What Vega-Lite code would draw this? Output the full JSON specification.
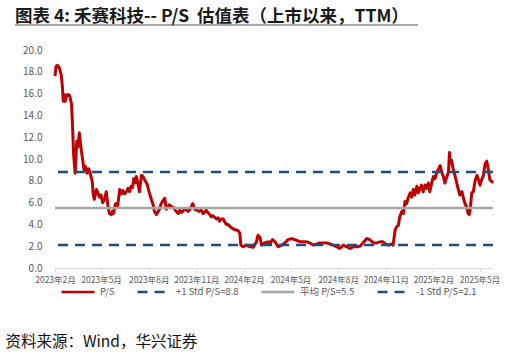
{
  "$schema": "https://vega.github.io/schema/vega-lite/v6.json",
  "width": 438,
  "height": 218,
  "autosize": {"type": "none"},
  "padding": {"left": 55, "top": 50, "right": 16, "bottom": 86},
  "background": "white",
  "config": {"view": {"stroke": null}, "font": "Noto Sans CJK SC"},
  "title": {
    "text": "图表 4: 禾赛科技-- P/S\u00a0 估值表（上市以来，TTM）",
    "anchor": "start",
    "frame": "group",
    "dx": -40,
    "offset": -1,
    "fontSize": 17.5,
    "fontWeight": "bold",
    "color": "#1a1a1a",
    "font": "Noto Sans CJK SC"
  },
  "datasets": {
    "ps": [
      {"d":"2023-02-09","v":17.6},{"d":"2023-02-11","v":18.5},{"d":"2023-02-14","v":18.6},{"d":"2023-02-18","v":18.3},{"d":"2023-02-21","v":17.7},{"d":"2023-02-23","v":16.8},{"d":"2023-02-25","v":15.3},{"d":"2023-02-27","v":15.9},{"d":"2023-03-01","v":15.3},{"d":"2023-03-04","v":15.9},{"d":"2023-03-08","v":15.9},{"d":"2023-03-10","v":15.7},{"d":"2023-03-13","v":15.0},{"d":"2023-03-15","v":12.8},{"d":"2023-03-17","v":10.4},{"d":"2023-03-18","v":9.8},{"d":"2023-03-20","v":8.7},{"d":"2023-03-23","v":11.6},{"d":"2023-03-25","v":11.1},{"d":"2023-03-28","v":12.4},{"d":"2023-04-01","v":10.7},{"d":"2023-04-04","v":9.75},{"d":"2023-04-06","v":9.0},{"d":"2023-04-09","v":9.3},{"d":"2023-04-12","v":8.7},{"d":"2023-04-15","v":9.1},{"d":"2023-04-18","v":8.7},{"d":"2023-04-22","v":7.9},{"d":"2023-04-24","v":6.7},{"d":"2023-04-26","v":6.3},{"d":"2023-04-30","v":7.2},{"d":"2023-05-03","v":6.9},{"d":"2023-05-06","v":6.5},{"d":"2023-05-09","v":6.7},{"d":"2023-05-12","v":6.0},{"d":"2023-05-16","v":6.3},{"d":"2023-05-19","v":7.0},{"d":"2023-05-22","v":5.8},{"d":"2023-05-25","v":5.0},{"d":"2023-05-29","v":4.9},{"d":"2023-05-31","v":5.2},{"d":"2023-06-02","v":5.0},{"d":"2023-06-06","v":5.9},{"d":"2023-06-10","v":5.7},{"d":"2023-06-14","v":7.2},{"d":"2023-06-17","v":6.8},{"d":"2023-06-20","v":7.1},{"d":"2023-06-23","v":6.8},{"d":"2023-06-27","v":7.0},{"d":"2023-06-30","v":7.3},{"d":"2023-07-03","v":7.0},{"d":"2023-07-06","v":7.5},{"d":"2023-07-09","v":7.4},{"d":"2023-07-11","v":8.2},{"d":"2023-07-15","v":7.8},{"d":"2023-07-16","v":8.4},{"d":"2023-07-19","v":7.8},{"d":"2023-07-22","v":7.0},{"d":"2023-07-26","v":8.5},{"d":"2023-07-29","v":8.4},{"d":"2023-08-01","v":8.1},{"d":"2023-08-06","v":7.7},{"d":"2023-08-08","v":7.3},{"d":"2023-08-09","v":7.1},{"d":"2023-08-14","v":6.3},{"d":"2023-08-17","v":5.9},{"d":"2023-08-20","v":5.2},{"d":"2023-08-24","v":4.9},{"d":"2023-08-26","v":5.1},{"d":"2023-08-30","v":5.4},{"d":"2023-09-02","v":5.9},{"d":"2023-09-06","v":6.2},{"d":"2023-09-09","v":6.4},{"d":"2023-09-12","v":5.4},{"d":"2023-09-15","v":5.6},{"d":"2023-09-18","v":5.8},{"d":"2023-09-22","v":5.6},{"d":"2023-09-25","v":5.6},{"d":"2023-09-28","v":5.4},{"d":"2023-10-01","v":5.2},{"d":"2023-10-05","v":5.0},{"d":"2023-10-08","v":5.3},{"d":"2023-10-11","v":5.1},{"d":"2023-10-14","v":5.2},{"d":"2023-10-17","v":5.4},{"d":"2023-10-21","v":5.3},{"d":"2023-10-24","v":5.2},{"d":"2023-10-28","v":5.4},{"d":"2023-11-02","v":5.9},{"d":"2023-11-06","v":5.4},{"d":"2023-11-10","v":5.3},{"d":"2023-11-14","v":5.2},{"d":"2023-11-19","v":5.3},{"d":"2023-11-22","v":5.0},{"d":"2023-11-25","v":5.1},{"d":"2023-11-28","v":5.3},{"d":"2023-12-01","v":5.1},{"d":"2023-12-05","v":4.9},{"d":"2023-12-08","v":4.7},{"d":"2023-12-11","v":4.8},{"d":"2023-12-18","v":4.5},{"d":"2023-12-21","v":4.6},{"d":"2023-12-24","v":4.3},{"d":"2023-12-27","v":4.5},{"d":"2023-12-31","v":4.5},{"d":"2024-01-03","v":4.2},{"d":"2024-01-06","v":4.0},{"d":"2024-01-09","v":4.0},{"d":"2024-01-13","v":3.8},{"d":"2024-01-19","v":3.6},{"d":"2024-01-22","v":3.5},{"d":"2024-01-25","v":3.5},{"d":"2024-01-29","v":3.4},{"d":"2024-02-01","v":3.2},{"d":"2024-02-03","v":2.1},{"d":"2024-02-07","v":1.95},{"d":"2024-02-14","v":2.1},{"d":"2024-02-20","v":1.95},{"d":"2024-02-27","v":1.9},{"d":"2024-03-04","v":2.4},{"d":"2024-03-07","v":3.0},{"d":"2024-03-11","v":2.8},{"d":"2024-03-14","v":2.1},{"d":"2024-03-20","v":2.3},{"d":"2024-03-27","v":2.4},{"d":"2024-03-31","v":2.3},{"d":"2024-04-04","v":2.6},{"d":"2024-04-09","v":2.4},{"d":"2024-04-15","v":1.95},{"d":"2024-04-22","v":2.1},{"d":"2024-04-28","v":2.3},{"d":"2024-05-04","v":2.6},{"d":"2024-05-11","v":2.7},{"d":"2024-05-17","v":2.6},{"d":"2024-05-23","v":2.5},{"d":"2024-05-27","v":2.4},{"d":"2024-06-02","v":2.4},{"d":"2024-06-09","v":2.4},{"d":"2024-06-15","v":2.3},{"d":"2024-06-22","v":2.1},{"d":"2024-06-28","v":2.2},{"d":"2024-07-05","v":2.3},{"d":"2024-07-11","v":2.3},{"d":"2024-07-18","v":2.3},{"d":"2024-07-24","v":2.2},{"d":"2024-07-30","v":2.1},{"d":"2024-08-06","v":1.95},{"d":"2024-08-12","v":1.8},{"d":"2024-08-19","v":2.1},{"d":"2024-08-25","v":1.95},{"d":"2024-09-01","v":1.8},{"d":"2024-09-07","v":1.95},{"d":"2024-09-14","v":1.95},{"d":"2024-09-20","v":2.0},{"d":"2024-09-26","v":2.3},{"d":"2024-10-03","v":2.7},{"d":"2024-10-09","v":2.6},{"d":"2024-10-16","v":2.3},{"d":"2024-10-22","v":2.3},{"d":"2024-10-29","v":2.4},{"d":"2024-11-03","v":2.4},{"d":"2024-11-09","v":2.2},{"d":"2024-11-14","v":2.1},{"d":"2024-11-19","v":2.2},{"d":"2024-11-23","v":2.1},{"d":"2024-11-27","v":3.5},{"d":"2024-11-30","v":3.8},{"d":"2024-12-03","v":3.9},{"d":"2024-12-06","v":4.7},{"d":"2024-12-10","v":5.2},{"d":"2024-12-13","v":5.0},{"d":"2024-12-16","v":6.1},{"d":"2024-12-19","v":5.9},{"d":"2024-12-22","v":6.4},{"d":"2024-12-26","v":6.9},{"d":"2024-12-29","v":6.5},{"d":"2025-01-01","v":7.2},{"d":"2025-01-04","v":6.7},{"d":"2025-01-08","v":7.5},{"d":"2025-01-11","v":6.9},{"d":"2025-01-14","v":7.3},{"d":"2025-01-17","v":7.6},{"d":"2025-01-20","v":7.0},{"d":"2025-01-24","v":7.6},{"d":"2025-01-27","v":7.3},{"d":"2025-01-30","v":7.8},{"d":"2025-02-02","v":7.0},{"d":"2025-02-06","v":7.9},{"d":"2025-02-09","v":8.4},{"d":"2025-02-12","v":8.2},{"d":"2025-02-15","v":8.7},{"d":"2025-02-18","v":9.0},{"d":"2025-02-22","v":9.4},{"d":"2025-02-25","v":8.8},{"d":"2025-02-28","v":8.4},{"d":"2025-03-03","v":7.8},{"d":"2025-03-07","v":8.4},{"d":"2025-03-10","v":8.8},{"d":"2025-03-12","v":10.6},{"d":"2025-03-14","v":9.6},{"d":"2025-03-16","v":9.9},{"d":"2025-03-19","v":9.1},{"d":"2025-03-23","v":8.4},{"d":"2025-03-26","v":7.8},{"d":"2025-03-29","v":7.2},{"d":"2025-04-01","v":6.7},{"d":"2025-04-05","v":7.0},{"d":"2025-04-08","v":6.4},{"d":"2025-04-11","v":5.9},{"d":"2025-04-14","v":5.6},{"d":"2025-04-17","v":5.0},{"d":"2025-04-19","v":4.9},{"d":"2025-04-21","v":5.4},{"d":"2025-04-24","v":6.9},{"d":"2025-04-27","v":7.0},{"d":"2025-04-30","v":7.9},{"d":"2025-05-04","v":8.5},{"d":"2025-05-07","v":8.1},{"d":"2025-05-10","v":7.6},{"d":"2025-05-13","v":8.1},{"d":"2025-05-16","v":8.4},{"d":"2025-05-20","v":9.6},{"d":"2025-05-23","v":9.8},{"d":"2025-05-26","v":9.0},{"d":"2025-05-29","v":8.1},{"d":"2025-06-02","v":7.9},{"d":"2025-06-04","v":8.0}
    ],
    "refs": [
      {"s":"+1 Std P/S=8.8","v":8.8},
      {"s":"平均 P/S=5.5","v":5.5},
      {"s":"-1 Std P/S=2.1","v":2.1}
    ]
  },
  "layer": [
    {
      "data": {"name": "ps"},
      "mark": {"type": "line", "strokeWidth": 3, "strokeJoin": "round"},
      "encoding": {
        "x": {
          "field": "d",
          "type": "temporal",
          "scale": {
            "type": "utc",
            "nice": false,
            "domain": [
              {"year": 2023, "month": 2, "date": 9, "utc": true},
              {"year": 2025, "month": 6, "date": 4, "utc": true}
            ]
          },
          "axis": {
            "values": [
              {"year": 2023, "month": 2, "date": 9, "utc": true},
              {"year": 2023, "month": 5, "date": 9, "utc": true},
              {"year": 2023, "month": 8, "date": 9, "utc": true},
              {"year": 2023, "month": 11, "date": 9, "utc": true},
              {"year": 2024, "month": 2, "date": 9, "utc": true},
              {"year": 2024, "month": 5, "date": 9, "utc": true},
              {"year": 2024, "month": 8, "date": 9, "utc": true},
              {"year": 2024, "month": 11, "date": 9, "utc": true},
              {"year": 2025, "month": 2, "date": 9, "utc": true},
              {"year": 2025, "month": 5, "date": 9, "utc": true}
            ],
            "tickCount": 20,
            "format": "%Y年%-m月",
            "labelFontSize": 8.5,
            "labelColor": "#595959",
            "labelFlush": false,
            "labelOverlap": false,
            "labelPadding": 3,
            "domainColor": "#d9d9d9",
            "tickColor": "#d9d9d9",
            "tickSize": 4,
            "grid": false,
            "title": "资料来源：Wind，华兴证券",
            "titleX": -50,
            "titleY": 73,
            "titleAlign": "left",
            "titleAnchor": null,
            "titleBaseline": "middle",
            "titleFontSize": 15.5,
            "titleFontWeight": "normal",
            "titleColor": "#111111"
          }
        },
        "y": {
          "field": "v",
          "type": "quantitative",
          "scale": {"domain": [0, 20], "nice": false},
          "axis": {
            "values": [0, 2, 4, 6, 8, 10, 12, 14, 16, 18, 20],
            "tickCount": 20,
            "format": ".1f",
            "labelFontSize": 10,
            "labelColor": "#595959",
            "labelPadding": 13,
            "labelOverlap": false,
            "domain": false,
            "ticks": false,
            "grid": false,
            "title": null
          }
        },
        "color": {
          "datum": "P/S",
          "type": "nominal",
          "title": null,
          "scale": {
            "domain": ["P/S", "+1 Std P/S=8.8", "平均 P/S=5.5", "-1 Std P/S=2.1"],
            "range": ["#C00000", "#1F4E79", "#A6A6A6", "#1F4E79"]
          },
          "legend": {
            "title": null,
            "orient": "none",
            "legendX": 5,
            "legendY": 224,
            "direction": "horizontal",
            "symbolType": "stroke",
            "symbolSize": 1089,
            "symbolStrokeWidth": 2.5,
            "labelFontSize": 9.5,
            "labelColor": "#595959",
            "labelOffset": 4,
            "columnPadding": 17
          }
        },
        "strokeDash": {
          "datum": "P/S",
          "type": "nominal",
          "title": null,
          "scale": {
            "domain": ["P/S", "+1 Std P/S=8.8", "平均 P/S=5.5", "-1 Std P/S=2.1"],
            "range": [[1, 0], [10, 7], [1, 0], [10, 7]]
          },
          "legend": {"title": null}
        }
      }
    },
    {
      "data": {"name": "refs"},
      "mark": {"type": "rule", "strokeWidth": 2.5},
      "encoding": {
        "y": {"field": "v", "type": "quantitative", "title": null},
        "color": {"field": "s", "type": "nominal", "title": null},
        "strokeDash": {"field": "s", "type": "nominal", "title": null}
      }
    },
    {
      "data": {"values": [{}]},
      "mark": {"type": "rule", "color": "#8c8c8c", "strokeWidth": 1.5},
      "encoding": {
        "x": {"value": -40},
        "x2": {"value": 363},
        "y": {"value": -25}
      }
    }
  ]
}
